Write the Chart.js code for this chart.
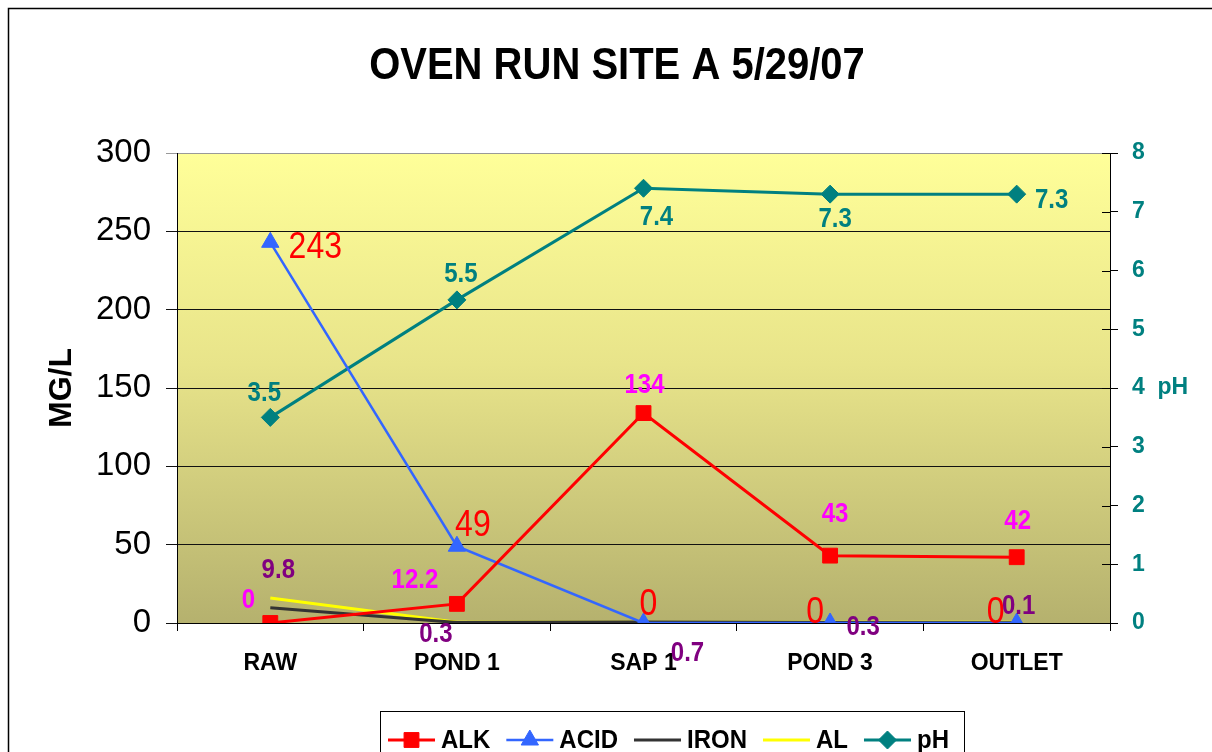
<!DOCTYPE html>
<html>
<head>
<meta charset="utf-8">
<script src="https://cdn.jsdelivr.net/npm/chart.js@4.4.1/dist/chart.umd.min.js"></script>
<style>
  html, body { margin:0; padding:0; background:#fff; }
</style>
</head>
<body>
<canvas id="chart" width="1212" height="752"></canvas>
<script>
const FONT = '"Liberation Sans", Arial, sans-serif';

// data
const categories = ['RAW', 'POND 1', 'SAP 1', 'POND 3', 'OUTLET'];
const alk  = [0, 12.2, 134, 43, 42];
const acid = [243, 49, 0, 0, 0];
const iron = [9.8, 0.3, 0.7, 0.3, 0.1];
const al   = [16, 0.5, 0.5, 0.5, 0.5];
const ph   = [3.5, 5.5, 7.4, 7.3, 7.3];

const mgMin = 0, mgMax = 300, mgStep = 50;
const phMin = 0, phMax = 8, phStep = 1;

// where each value label sits relative to its point (dx, dy)
const alkLabelPos  = [[-22,-24], [-42,-25], [1,-29], [5,-42], [1,-37]];
const acidLabelPos = [[45,5], [16,-21], [5,-19], [-15,-11], [-21,-11]];
const ironLabelPos = [[8,-38], [-21,11], [44,30], [33,4], [2,-17]];
const phLabelPos   = [[-6,-25], [4,-26], [13,28], [5,24], [35,5]];

const datasets = [
  { label:'ALK', data:alk, yAxisID:'y', borderColor:'#FF0000', backgroundColor:'#FF0000',
    borderWidth:3, pointStyle:'rect', pointRadius:10.5, pointBorderWidth:1,
    valueLabels:{ pos:alkLabelPos, color:'#FF00FF', font:'bold 24px ' + FONT } },
  { label:'ACID', data:acid, yAxisID:'y', borderColor:'#3366FF', backgroundColor:'#3366FF',
    borderWidth:2.5, pointStyle:'triangle', pointRadius:10, pointBorderWidth:1,
    valueLabels:{ pos:acidLabelPos, color:'#FF0000', font:'32px ' + FONT } },
  { label:'IRON', data:iron, yAxisID:'y', borderColor:'#333333', backgroundColor:'#333333',
    borderWidth:3, pointRadius:0,
    valueLabels:{ pos:ironLabelPos, color:'#800080', font:'bold 24px ' + FONT } },
  { label:'AL', data:al, yAxisID:'y', borderColor:'#FFFF00', backgroundColor:'#FFFF00',
    borderWidth:3, pointRadius:0 },
  { label:'pH', data:ph, yAxisID:'y1', borderColor:'#008080', backgroundColor:'#008080',
    borderWidth:3, pointStyle:'rectRot', pointRadius:9, pointBorderWidth:1,
    valueLabels:{ pos:phLabelPos, color:'#008080', font:'bold 24px ' + FONT } }
];
datasets.forEach(d => { d.tension = 0; d.pointBackgroundColor = d.backgroundColor; d.pointBorderColor = d.borderColor; });

// the original text is drawn a bit taller than it is wide
function tallText(ctx, text, x, y, stretch) {
  ctx.save();
  ctx.translate(x, y);
  ctx.scale(1, stretch);
  ctx.fillText(text, 0, 0);
  ctx.restore();
}

const backdrop = {
  id:'backdrop',
  beforeDraw(chart) {
    const { ctx, chartArea:a } = chart;
    ctx.save();
    ctx.fillStyle = '#fff';
    ctx.fillRect(0, 0, chart.width, chart.height);
    const g = ctx.createLinearGradient(0, a.top, 0, a.bottom);
    g.addColorStop(0, '#FFFF99');
    g.addColorStop(0.45, '#E8E48A');
    g.addColorStop(1, '#B5B16E');
    ctx.fillStyle = g;
    ctx.fillRect(a.left, a.top, a.right - a.left, a.bottom - a.top);
    ctx.strokeStyle = '#000';
    ctx.lineWidth = 1.5;
    ctx.strokeRect(8.5, 8.5, chart.width + 20, chart.height + 20);
    ctx.restore();
  }
};

const valueLabels = {
  id:'valueLabels',
  afterDatasetsDraw(chart) {
    const ctx = chart.ctx;
    ctx.save();
    ctx.textAlign = 'center';
    ctx.textBaseline = 'middle';
    chart.data.datasets.forEach((ds, i) => {
      if (!ds.valueLabels) return;
      const meta = chart.getDatasetMeta(i);
      ctx.fillStyle = ds.valueLabels.color;
      ctx.font = ds.valueLabels.font;
      meta.data.forEach((pt, j) => {
        const [dx, dy] = ds.valueLabels.pos[j];
        tallText(ctx, String(ds.data[j]), pt.x + dx, pt.y + dy + 1, 1.15);
      });
    });
    ctx.restore();
  }
};

const extras = {
  id:'extras',
  afterDraw(chart) {
    const { ctx, chartArea:a } = chart;
    ctx.save();
    // inner half of the right axis ticks
    const y1 = chart.scales.y1;
    ctx.strokeStyle = '#000';
    ctx.lineWidth = 1;
    y1.ticks.forEach(t => {
      const py = Math.round(y1.getPixelForValue(t.value)) + 0.5;
      ctx.beginPath(); ctx.moveTo(a.right - 8, py); ctx.lineTo(a.right, py); ctx.stroke();
    });

    // title
    ctx.fillStyle = '#000';
    ctx.font = 'bold 40px ' + FONT;
    ctx.textAlign = 'center';
    ctx.textBaseline = 'alphabetic';
    tallText(ctx, 'OVEN RUN SITE A 5/29/07', 617, 79, 1.1);

    // legend
    ctx.font = 'bold 24px ' + FONT;
    ctx.textBaseline = 'middle';
    ctx.textAlign = 'left';
    const lineLen = 47, gapA = 6, gapB = 16, cy = 740;
    const boxL = 380, boxR = 964;
    ctx.strokeStyle = '#000';
    ctx.lineWidth = 1;
    ctx.strokeRect(boxL + 0.5, 711.5, boxR - boxL, 60);
    let x = boxL + 8;
    chart.data.datasets.forEach(d => {
      ctx.strokeStyle = d.borderColor;
      ctx.lineWidth = d.borderWidth;
      ctx.beginPath(); ctx.moveTo(x, cy); ctx.lineTo(x + lineLen, cy); ctx.stroke();
      if (d.pointRadius > 0) {
        ctx.fillStyle = d.backgroundColor;
        ctx.strokeStyle = d.borderColor;
        ctx.lineWidth = 1;
        Chart.helpers.drawPoint(ctx, { pointStyle:d.pointStyle, radius:d.pointRadius, borderWidth:1 }, x + lineLen / 2, cy);
      }
      ctx.fillStyle = '#000';
      tallText(ctx, d.label, x + lineLen + gapA, cy + 1, 1.1);
      x += lineLen + gapA + ctx.measureText(d.label).width + gapB;
    });
    ctx.restore();
  }
};

new Chart(document.getElementById('chart'), {
  type:'line',
  data:{ labels:categories, datasets },
  plugins:[backdrop, valueLabels, extras],
  options:{
    responsive:false,
    animation:false,
    layout:{ padding:{ top:153, left:0, right:0, bottom:0 } },
    plugins:{ legend:{ display:false }, title:{ display:false }, tooltip:{ enabled:false } },
    scales:{
      x:{
        offset:true,
        afterFit:s => { s.height = 129; },
        grid:{ offset:true, drawOnChartArea:false, tickLength:8, color:'#000' },
        border:{ display:true, color:'#000', width:1 },
        ticks:{ color:'#000', font:{ family:FONT, size:23, weight:'bold' }, padding:19, maxRotation:0 }
      },
      y:{
        position:'left',
        min:mgMin, max:mgMax,
        afterFit:s => { s.width = 177; },
        ticks:{ stepSize:mgStep, color:'#000', font:{ family:FONT, size:33 }, padding:15 },
        grid:{ color:ctx => ctx.tick && ctx.tick.value === mgMax ? '#999' : '#111', lineWidth:1, tickLength:11 },
        border:{ display:true, color:'#000', width:1 },
        title:{ display:true, text:'MG/L', color:'#000', font:{ family:FONT, size:32, weight:'bold' }, padding:{ top:43, bottom:0 } }
      },
      y1:{
        position:'right',
        min:phMin, max:phMax,
        afterFit:s => { s.width = 102; },
        ticks:{ stepSize:phStep, color:'#008080', font:{ family:FONT, size:23, weight:'bold' }, padding:14,
          callback:v => v === 4 ? '4  pH' : String(v) },
        grid:{ drawOnChartArea:false, tickLength:8, color:'#000' },
        border:{ display:true, color:'#000', width:1 }
      }
    }
  }
});
</script>
</body>
</html>
